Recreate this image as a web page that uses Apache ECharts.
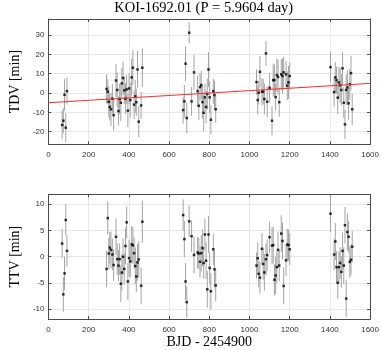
<!DOCTYPE html>
<html><head><meta charset="utf-8">
<script src="https://cdn.jsdelivr.net/npm/echarts@6/dist/echarts.min.js"></script>
<style>html,body{margin:0;padding:0;background:#fff}#c{width:382px;height:350px}</style>
</head><body><div id="c"></div>
<script>
// Transit epochs (BJD - 2454900)
const transitX = [
  68, 74, 80, 86, 92,
  289, 295, 300, 305, 311, 318, 324, 336, 342, 348, 354, 360, 365, 371, 377, 383, 389, 395, 401, 407, 414, 420, 426, 432, 437, 443, 449, 461, 467,
  670, 676, 682, 688, 700, 712, 724, 742, 748, 754, 760, 766, 772, 778, 784, 790, 796, 802, 808, 820, 826, 832,
  1035, 1041, 1046, 1052, 1062, 1068, 1074, 1082, 1088, 1100, 1112, 1118, 1124, 1130, 1136, 1142, 1148, 1158, 1164, 1170, 1182, 1188, 1194, 1200,
  1403, 1421, 1427, 1433, 1439, 1445, 1451, 1457, 1463, 1469, 1475, 1481, 1487, 1493, 1499, 1505, 1511
];
// Transit duration variations [min]
const tdv = [
  -16.5, -14.3, -0.9, -17.9, 1.0,
  2.1, 0.7, -4.5, -7.2, -8.4, -2.9, -11.4, 6.5, 1.6, -9.3, -3.1, -5.0, 5.0, 7.8, 1.4, -2.9, 1.9, -9.1, 2.4, -3.6, 8.1, 13.1, -6.0, -1.7, -4.7, 12.2, -14.8, -6.4, 13.1,
  -8.8, -4.3, 15.2, -12.9, 31.2, -4.3, 10.7, 1.0, -6.6, 3.1, 4.1, -4.7, -10.2, -2.2, -7.2, -0.5, 12.2, -2.2, -13.8, 1.0, -1.0, -8.4,
  5.7, -3.6, 0.2, 11.0, 0.7, 0.7, -3.1, 20.5, -4.5, 2.7, -14.3, 6.7, 6.7, -2.1, 9.3, 8.3, -4.7, 9.7, 8.8, 10.7, 9.7, 3.8, 5.5, 8.8,
  13.4, 0.5, 8.1, 6.7, -2.4, 5.5, 4.0, 1.6, 12.8, -5.0, -16.2, 1.6, 2.9, -5.3, 4.5, 10.3, -8.4
];
const tdvErr = [
  7.3, 6.5, 8.2, 7.5, 7.0,
  7.5, 6.5, 8.0, 7.0, 8.5, 7.5, 8.0, 8.5, 9.0, 7.5, 8.0, 9.5, 8.0, 8.5, 7.0, 8.0, 7.5, 8.5, 8.0, 9.0, 9.5, 9.0, 7.5, 8.5, 7.0, 9.5, 8.0, 7.0, 10.0,
  7.0, 8.5, 9.0, 8.0, 5.5, 7.5, 9.0, 8.0, 7.5, 7.0, 7.5, 8.5, 9.5, 7.0, 8.5, 8.0, 9.0, 8.0, 7.5, 6.5, 7.5, 7.0,
  6.5, 7.5, 6.0, 8.0, 7.0, 6.5, 8.0, 6.5, 8.0, 7.5, 7.5, 8.5, 8.0, 7.0, 8.5, 9.0, 7.5, 8.0, 9.0, 8.0, 7.0, 7.5, 8.5, 7.0,
  8.0, 7.5, 8.0, 7.0, 8.5, 8.0, 9.0, 8.0, 8.5, 8.0, 7.5, 8.0, 9.0, 8.5, 8.0, 9.0, 8.0
];
// Transit timing variations [min]
const ttv = [
  2.5, -7.2, -3.2, 7.0, 1.1,
  -2.35, 7.36, 0.6, 1.72, 1.28, 0.41, -1.6, 3.79, -0.47, -1.72, -0.47, -5.17, -3.04, -0.03, -2.35, 2.04, 6.55, -4.73, -0.28, -0.91, 2.35, 2.16, 0.66, -1.79, -3.79, -1.1, -0.53, -5.55, 6.67,
  7.93, 3.35, -4.73, -8.68, 6.74, 3.92, 0.34, 0.78, 0.6, -0.97, 0.66, 1.66, -1.22, 4.23, -0.78, -6.23, 4.23, -2.16, -6.61, 1.41, -2.41, -5.48,
  -1.7, -0.3, -3.3, -4.0, 1.5, -1.4, -3.0, -0.5, 0.3, 3.7, 2.1, 2.2, -4.4, -3.6, -2.0, 1.3, -1.7, 4.4, 3.0, -5.6, -0.7, 2.3, 2.2, 1.4,
  8.2, 0.4, 2.9, -2.0, -5.0, -2.0, -1.2, -2.9, 1.1, -1.7, 6.0, -8.0, 4.7, 3.8, -1.0, -0.6, 1.9
];
const ttvErr = [
  2.8, 3.3, 3.2, 3.0, 3.0,
  3.5, 3.2, 3.0, 3.0, 3.5, 3.0, 3.0, 3.5, 3.0, 3.0, 3.0, 3.5, 3.5, 3.5, 3.0, 3.5, 3.0, 3.5, 3.5, 3.0, 3.5, 3.5, 3.0, 3.5, 3.0, 3.5, 3.5, 3.5, 4.0,
  3.0, 3.5, 3.5, 3.0, 3.0, 3.0, 3.5, 3.0, 3.0, 3.0, 3.5, 3.5, 3.0, 3.0, 3.5, 3.5, 3.5, 3.0, 3.5, 3.0, 3.5, 3.0,
  2.5, 3.0, 2.5, 3.0, 3.0, 3.0, 3.5, 3.0, 3.0, 3.0, 3.5, 3.5, 3.0, 3.5, 3.0, 3.5, 3.0, 3.5, 3.5, 3.5, 3.0, 3.0, 3.0, 3.0,
  3.5, 3.0, 3.5, 3.0, 3.0, 3.0, 3.0, 3.0, 3.5, 3.5, 3.5, 3.5, 3.5, 3.0, 3.0, 3.0, 3.0
];
// Linear fit to TDV
const fitX = [0, 1600];
const fitY = [-5.0, 5.0];

const titleText = 'KOI-1692.01 (P = 5.9604 day)';
const xName = 'BJD - 2454900';
const yNameTop = 'TDV [min]';
const yNameBottom = 'TTV [min]';

const AX = '#4a4a4a';
const SERIF = '"Liberation Serif", "DejaVu Serif", serif';
const SANS = '"Liberation Sans", Arial, sans-serif';

function errRender(params, api) {
  const x = api.value(0);
  const p1 = api.coord([x, api.value(1)]);
  const p2 = api.coord([x, api.value(2)]);
  return {type: 'line', shape: {x1: p1[0], y1: p1[1], x2: p2[0], y2: p2[1]},
          style: {stroke: '#a3a3a3', lineWidth: 1}};
}
function xAx(grid, main) {
  return {
    gridIndex: grid, type: 'value', min: 0, max: 1600, interval: 200,
    position: main ? 'bottom' : 'top',
    axisLine: {show: true, onZero: false, lineStyle: {color: AX, width: 1}},
    axisTick: {show: true, inside: true, length: 3, lineStyle: {color: AX}},
    axisLabel: {show: main, fontSize: 8, color: '#333', margin: 6, fontFamily: SANS,
      formatter: v => String(v)},
    splitLine: {show: main, lineStyle: {color: '#e8e8e8', width: 1}}
  };
}
function yAx(grid, main, min, max, step, name) {
  const o = {
    gridIndex: grid, type: 'value', min: min, max: max,
    position: main ? 'left' : 'right',
    axisLine: {show: true, onZero: false, lineStyle: {color: AX, width: 1}},
    axisTick: {show: true, inside: true, length: 3, lineStyle: {color: AX}},
    axisLabel: {show: main, fontSize: 8, color: '#333', margin: 4, fontFamily: SANS,
      formatter: v => (Math.abs(v / step - Math.round(v / step)) < 1e-6) ? String(Math.round(v)) : ''},
    splitLine: {show: main, lineStyle: {color: '#e8e8e8', width: 1}}
  };
  if (main) {
    o.name = name; o.nameLocation = 'middle'; o.nameGap = 21;
    o.nameTextStyle = {fontFamily: SERIF, fontSize: 14, color: '#000'};
  }
  return o;
}

const xb = xAx(1, true);
xb.name = xName; xb.nameLocation = 'middle'; xb.nameGap = 16;
xb.nameTextStyle = {fontFamily: SERIF, fontSize: 14, color: '#000'};
xb.axisLabel.margin = 7;

const chart = echarts.init(document.getElementById('c'), null, {renderer: 'canvas'});
chart.setOption({
  animation: false,
  backgroundColor: '#fff',
  graphic: [{type: 'text', x: 203.7, y: 1,
    style: {text: titleText, font: '14.5px ' + SERIF, fill: '#000', textAlign: 'center', textVerticalAlign: 'top'}}],
  grid: [
    {left: 35.7, right: 10.3, top: 19, height: 125.3},
    {left: 35.7, right: 10.3, top: 194.3, height: 126.7}
  ],
  xAxis: [xAx(0, true), xAx(0, false), xb, xAx(1, false)],
  yAxis: [
    yAx(0, true, -26.5, 38.3, 10, yNameTop), yAx(0, false, -26.5, 38.3, 10),
    yAx(1, true, -11.9, 11.9, 5, yNameBottom), yAx(1, false, -11.9, 11.9, 5)
  ],
  series: [
    {type: 'custom', xAxisIndex: 0, yAxisIndex: 0, renderItem: errRender, silent: true, z: 2,
     encode: {x: 0, y: [1, 2]},
     data: transitX.map((x, i) => [x, tdv[i] - tdvErr[i], tdv[i] + tdvErr[i]])},
    {type: 'scatter', xAxisIndex: 0, yAxisIndex: 0, symbol: 'rect', symbolSize: 2.5, silent: true, z: 3,
     itemStyle: {color: '#000'}, data: transitX.map((x, i) => [x, tdv[i]])},
    {type: 'line', xAxisIndex: 0, yAxisIndex: 0, symbol: 'none', silent: true, z: 4,
     lineStyle: {color: '#ff2a2a', width: 1}, data: fitX.map((x, i) => [x, fitY[i]])},
    {type: 'custom', xAxisIndex: 2, yAxisIndex: 2, renderItem: errRender, silent: true, z: 2,
     encode: {x: 0, y: [1, 2]},
     data: transitX.map((x, i) => [x, ttv[i] - ttvErr[i], ttv[i] + ttvErr[i]])},
    {type: 'scatter', xAxisIndex: 2, yAxisIndex: 2, symbol: 'rect', symbolSize: 2.5, silent: true, z: 3,
     itemStyle: {color: '#000'}, data: transitX.map((x, i) => [x, ttv[i]])}
  ]
});
</script>
</body></html>
